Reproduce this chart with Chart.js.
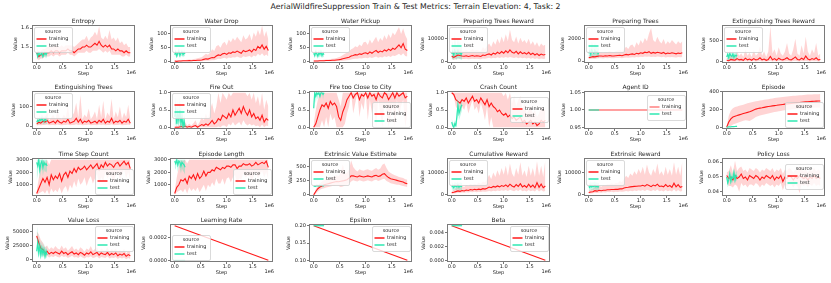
<!DOCTYPE html>
<html>
<head>
<meta charset="utf-8">
<script src="https://cdn.jsdelivr.net/npm/chart.js@4.4.0/dist/chart.umd.min.js"></script>
<style>
  body { margin: 0; background: #fff; }
  #fig { position: relative; width: 831px; height: 283px; overflow: hidden; }
  #fig canvas { position: absolute; }
  #suptitle { position: absolute; left: 0; top: 2px; width: 831px; text-align: center;
              font: 7.8px 'DejaVu Sans'; color: #262626; }
</style>
</head>
<body>
<div id="fig"><div id="suptitle">AerialWildfireSuppression Train &amp; Test Metrics: Terrain Elevation: 4, Task: 2</div></div>
<script>
// steps in units of 1e6
const trainSteps = [0, 0.04, 0.08, 0.12, 0.16, 0.2, 0.24, 0.28, 0.32, 0.36,
  0.4, 0.44, 0.48, 0.52, 0.56, 0.6, 0.64, 0.68, 0.72, 0.76,
  0.8, 0.84, 0.88, 0.92, 0.96, 1.0, 1.04, 1.08, 1.12, 1.16,
  1.2, 1.24, 1.28, 1.32, 1.36, 1.4, 1.44, 1.48, 1.52, 1.56,
  1.6, 1.64, 1.68, 1.72, 1.76, 1.8];
const testSteps = [0, 0.02, 0.04, 0.06, 0.08, 0.1, 0.12, 0.14, 0.16, 0.18, 0.2];
const lineSteps = [0, 1.8];
const lineTestSteps = [0, 0.2];
const xTickLabels = ['0.0', '0.5', '1.0', '1.5'];

// Entropy
const entropyTicks = ['1.5', '1.6'];
const entropyMean = [1.47, 1.45, 1.46, 1.46, 1.47, 1.47, 1.47, 1.48, 1.47, 1.48,
  1.48, 1.47, 1.48, 1.48, 1.48, 1.49, 1.48, 1.48, 1.47, 1.48,
  1.49, 1.49, 1.50, 1.50, 1.51, 1.50, 1.50, 1.51, 1.52, 1.51,
  1.53, 1.51, 1.50, 1.51, 1.50, 1.51, 1.49, 1.49, 1.48, 1.49,
  1.48, 1.48, 1.47, 1.48, 1.47, 1.47];
const entropyHigh = [1.50, 1.47, 1.48, 1.49, 1.49, 1.50, 1.50, 1.50, 1.50, 1.51,
  1.50, 1.50, 1.51, 1.50, 1.51, 1.51, 1.51, 1.51, 1.50, 1.51,
  1.52, 1.53, 1.54, 1.54, 1.56, 1.53, 1.55, 1.56, 1.58, 1.56,
  1.61, 1.55, 1.54, 1.56, 1.54, 1.59, 1.54, 1.55, 1.53, 1.55,
  1.52, 1.53, 1.51, 1.52, 1.50, 1.50];
const entropyLow = [1.44, 1.43, 1.44, 1.44, 1.45, 1.45, 1.45, 1.46, 1.45, 1.46,
  1.46, 1.45, 1.46, 1.46, 1.46, 1.47, 1.46, 1.46, 1.45, 1.46,
  1.47, 1.47, 1.47, 1.47, 1.48, 1.47, 1.47, 1.48, 1.48, 1.48,
  1.49, 1.48, 1.47, 1.48, 1.47, 1.48, 1.46, 1.46, 1.46, 1.46,
  1.46, 1.45, 1.45, 1.46, 1.45, 1.45];
const entropyTest = [1.47, 1.45, 1.47, 1.46, 1.46, 1.47, 1.45, 1.46, 1.47, 1.46, 1.47];
const entropyTestLow = [1.45, 1.44, 1.45, 1.44, 1.45, 1.45, 1.44, 1.45, 1.45, 1.44, 1.45];
const entropyTestHigh = [1.48, 1.47, 1.48, 1.48, 1.47, 1.48, 1.47, 1.48, 1.48, 1.47, 1.48];

// Water Drop
const waterDropTicks = ['0', '50', '100'];
const waterDropMean = [2, 1, 2, 2, 3, 3, 3, 4, 3, 4,
  4, 5, 5, 6, 8, 10, 9, 12, 15, 14,
  20, 24, 22, 28, 30, 26, 32, 30, 35, 33,
  38, 34, 30, 40, 36, 38, 42, 35, 45, 40,
  55, 48, 60, 45, 55, 40];
const waterDropHigh = [4, 3, 5, 5, 6, 6, 7, 8, 7, 9,
  10, 12, 14, 16, 22, 28, 25, 32, 45, 38,
  55, 60, 50, 65, 72, 58, 80, 70, 85, 75,
  90, 80, 70, 95, 80, 85, 100, 75, 105, 90,
  115, 95, 130, 90, 110, 80];
const waterDropLow = [0, 0, 0, 0, 0, 0, 0, 1, 1, 1,
  1, 1, 1, 1, 2, 3, 3, 4, 5, 5,
  8, 10, 9, 12, 14, 10, 15, 13, 16, 15,
  18, 15, 13, 19, 17, 18, 20, 15, 22, 18,
  28, 22, 30, 20, 26, 18];
const waterDropTest = [25, 35, 20, 30, 38, 22, 30, 35, 25, 32, 28];
const waterDropTestLow = [15, 22, 12, 18, 25, 12, 18, 22, 15, 20, 18];
const waterDropTestHigh = [35, 45, 30, 40, 48, 32, 42, 45, 35, 42, 38];

// Water Pickup
const waterPickupTicks = ['0', '50', '100'];
const waterPickupMean = [2, 2, 2, 3, 3, 3, 4, 4, 4, 5,
  5, 6, 7, 8, 10, 12, 14, 16, 20, 22,
  25, 24, 28, 26, 30, 32, 28, 35, 30, 36,
  40, 33, 38, 35, 42, 38, 45, 40, 48, 44,
  52, 60, 50, 65, 45, 40];
const waterPickupHigh = [4, 4, 5, 6, 6, 7, 8, 8, 9, 10,
  11, 13, 16, 18, 24, 28, 32, 36, 45, 48,
  55, 52, 62, 55, 70, 72, 60, 80, 65, 78,
  90, 70, 85, 75, 95, 80, 100, 85, 105, 95,
  110, 125, 100, 120, 95, 80];
const waterPickupLow = [0, 0, 0, 1, 1, 1, 1, 1, 1, 1,
  1, 2, 2, 2, 3, 4, 5, 6, 8, 9,
  10, 10, 12, 11, 13, 14, 12, 16, 13, 16,
  18, 14, 17, 15, 19, 17, 20, 17, 22, 20,
  24, 28, 22, 30, 20, 18];
const waterPickupTest = [30, 22, 35, 28, 20, 32, 26, 35, 22, 30, 25];
const waterPickupTestLow = [18, 12, 22, 16, 10, 20, 15, 22, 12, 18, 15];
const waterPickupTestHigh = [42, 32, 46, 40, 30, 44, 38, 46, 32, 42, 35];

// Preparing Trees Reward
const prepRewardTicks = ['0', '10000'];
const prepRewardMean = [2500, 2000, 2500, 3000, 2800, 2600, 2500, 2700, 2400, 2600,
  2800, 2500, 2700, 2600, 2400, 3000, 2800, 3200, 3500, 3000,
  3800, 3400, 4200, 3600, 4500, 3800, 4800, 4000, 5200, 4200,
  3800, 4600, 3500, 4400, 3600, 4000, 3400, 4200, 3200, 3800,
  3000, 3600, 2800, 3400, 3000, 3200];
const prepRewardHigh = [4500, 4000, 5000, 5500, 5200, 5000, 4800, 5200, 4600, 5000,
  5500, 4800, 5200, 5000, 4600, 6500, 5500, 7000, 8000, 6500,
  9000, 7500, 10000, 8000, 11000, 8500, 12000, 9000, 14000, 9500,
  8500, 11000, 8000, 10500, 8500, 9500, 8000, 10000, 7500, 9000,
  7000, 8500, 6500, 8000, 7000, 7500];
const prepRewardLow = [1200, 1000, 1200, 1500, 1400, 1300, 1300, 1400, 1200, 1300,
  1400, 1300, 1400, 1300, 1200, 1500, 1400, 1600, 1800, 1500,
  1800, 1600, 2000, 1700, 2000, 1800, 2200, 1800, 2200, 1900,
  1700, 2000, 1600, 1900, 1600, 1800, 1500, 1800, 1400, 1700,
  1300, 1600, 1200, 1500, 1300, 1400];
const prepRewardTest = [3500, 4500, 3000, 5000, 4000, 3500, 4800, 3800, 4200, 3200, 4000];
const prepRewardTestLow = [1000, 1500, 800, 2000, 1200, 1000, 1800, 1200, 1500, 900, 1200];
const prepRewardTestHigh = [7000, 9000, 6500, 12000, 8000, 7000, 10000, 7500, 9000, 6500, 8000];

// Preparing Trees
const prepTreesTicks = ['0', '2000'];
const prepTreesMean = [300, 350, 400, 380, 420, 450, 450, 430, 480, 460,
  500, 470, 450, 480, 500, 520, 480, 550, 600, 560,
  620, 650, 600, 700, 650, 750, 700, 800, 750, 850,
  700, 780, 720, 800, 750, 700, 780, 650, 720, 680,
  750, 700, 650, 720, 680, 750];
const prepTreesHigh = [500, 600, 700, 650, 750, 800, 800, 750, 850, 800,
  900, 850, 800, 900, 950, 1000, 900, 1100, 1300, 1100,
  1400, 1500, 1200, 1700, 1400, 1900, 1600, 2100, 1800, 2500,
  3000, 1900, 1700, 2200, 1800, 1600, 2000, 1500, 1800, 1600,
  1900, 1700, 1500, 1800, 1600, 1800];
const prepTreesLow = [150, 180, 200, 180, 220, 250, 250, 230, 270, 250,
  280, 260, 250, 270, 280, 290, 260, 300, 320, 300,
  330, 350, 320, 370, 340, 390, 360, 400, 380, 420,
  360, 390, 360, 400, 380, 350, 390, 330, 360, 340,
  370, 350, 320, 360, 340, 370];
const prepTreesTest = [700, 900, 600, 1000, 800, 700, 950, 750, 850, 650, 800];
const prepTreesTestLow = [300, 400, 250, 450, 350, 300, 420, 330, 380, 280, 350];
const prepTreesTestHigh = [1300, 1600, 1100, 1800, 1400, 1200, 1700, 1300, 1500, 1100, 1400];

// Extinguishing Trees Reward
const extRewardTicks = ['0', '500'];
const extRewardMean = [40, 30, 60, 50, 40, 80, 50, 60, 40, 90,
  50, 70, 40, 80, 50, 60, 100, 50, 70, 40,
  60, 130, 50, 80, 40, 90, 60, 50, 70, 100,
  60, 50, 80, 120, 60, 50, 90, 60, 140, 70,
  50, 80, 60, 100, 50, 60];
const extRewardHigh = [100, 80, 180, 150, 120, 250, 150, 200, 120, 300,
  150, 220, 120, 280, 150, 200, 380, 150, 250, 120,
  250, 850, 200, 300, 150, 350, 200, 150, 250, 450,
  200, 150, 300, 550, 200, 150, 400, 200, 600, 250,
  150, 300, 200, 450, 150, 200];
const extRewardLow = [10, 5, 15, 10, 10, 20, 10, 15, 10, 20,
  10, 15, 10, 20, 10, 15, 25, 10, 15, 10,
  15, 30, 10, 20, 10, 20, 15, 10, 15, 25,
  15, 10, 20, 30, 15, 10, 20, 15, 30, 15,
  10, 20, 15, 25, 10, 15];
const extRewardTest = [120, 180, 100, 200, 150, 130, 190, 110, 160, 140, 170];
const extRewardTestLow = [40, 80, 30, 90, 60, 50, 80, 40, 70, 50, 70];
const extRewardTestHigh = [200, 260, 180, 280, 230, 210, 270, 190, 240, 220, 250];

// Extinguishing Trees
const extTreesTicks = ['0', '100'];
const extTreesMean = [10, 20, 15, 25, 20, 30, 15, 20, 25, 15,
  30, 20, 15, 25, 20, 35, 15, 20, 25, 40,
  20, 35, 15, 25, 20, 30, 15, 20, 25, 15,
  30, 20, 35, 15, 25, 20, 40, 15, 25, 20,
  30, 15, 25, 20, 35, 15];
const extTreesHigh = [20, 40, 30, 50, 40, 70, 30, 45, 60, 35,
  75, 45, 35, 60, 45, 100, 35, 50, 70, 120,
  45, 160, 35, 60, 45, 90, 35, 50, 75, 35,
  110, 45, 130, 35, 70, 50, 140, 35, 75, 45,
  100, 35, 70, 45, 110, 35];
const extTreesLow = [2, 5, 4, 6, 5, 8, 4, 5, 6, 4,
  8, 5, 4, 6, 5, 8, 4, 5, 6, 10,
  5, 8, 4, 6, 5, 8, 4, 5, 6, 4,
  8, 5, 8, 4, 6, 5, 10, 4, 6, 5,
  8, 4, 6, 5, 8, 4];
const extTreesTest = [20, 30, 25, 35, 28, 40, 30, 25, 35, 30, 28];
const extTreesTestLow = [5, 12, 8, 15, 10, 20, 12, 8, 15, 12, 10];
const extTreesTestHigh = [35, 48, 40, 55, 45, 60, 48, 40, 55, 48, 45];

// Fire Out
const fireOutTicks = ['0.0', '0.5', '1.0'];
const fireOutMean = [0, 0, 0, 0.02, 0, 0.03, 0, 0.02, 0, 0.03,
  0.05, 0, 0.04, 0.08, 0.05, 0.1, 0.06, 0.12, 0.2, 0.1,
  0.15, 0.25, 0.2, 0.35, 0.3, 0.25, 0.4, 0.3, 0.5, 0.35,
  0.45, 0.55, 0.4, 0.6, 0.45, 0.35, 0.5, 0.3, 0.4, 0.25,
  0.3, 0.2, 0.35, 0.15, 0.25, 0.2];
const fireOutHigh = [0.02, 0.03, 0.05, 0.1, 0.05, 0.15, 0.05, 0.1, 0.05, 0.12,
  0.2, 0.05, 0.15, 0.3, 0.2, 0.4, 0.25, 0.5, 0.7, 0.4,
  0.6, 1.0, 0.7, 1.0, 0.9, 0.8, 1.0, 0.9, 1.0, 1.0,
  1.0, 1.0, 1.0, 1.0, 1.0, 0.9, 1.0, 0.8, 1.0, 0.7,
  0.9, 0.6, 1.0, 0.5, 0.8, 0.6];
const fireOutLow = [0, 0, 0, 0, 0, 0, 0, 0, 0, 0,
  0, 0, 0, 0, 0, 0, 0, 0, 0, 0,
  0, 0.02, 0, 0.05, 0.05, 0, 0.1, 0.05, 0.15, 0.05,
  0.1, 0.15, 0.05, 0.2, 0.1, 0.05, 0.1, 0.05, 0.08, 0.03,
  0.05, 0, 0.08, 0, 0.05, 0.03];
const fireOutTest = [0.3, 0.5, 0.1, 0.4, 0.2, 0.5, 0.1, 0.3, 0.0, 0.2, 0.0];
const fireOutTestLow = [0, 0.1, 0, 0.1, 0, 0.2, 0, 0, 0, 0, 0];
const fireOutTestHigh = [0.6, 0.9, 0.3, 0.8, 0.5, 0.9, 0.3, 0.6, 0.1, 0.4, 0.1];

// Fire too Close to City
const fireCityTicks = ['0.0', '0.5', '1.0'];
const fireCityMean = [0, 0.1, 0.3, 0.5, 0.65, 0.6, 0.7, 0.55, 0.75, 0.65,
  0.7, 0.6, 0.3, 0.2, 0.45, 0.6, 0.8, 0.9, 1.0, 0.85,
  0.95, 1.0, 0.8, 0.95, 0.9, 1.0, 0.85, 1.0, 0.9, 0.95,
  0.8, 1.0, 0.9, 0.85, 1.0, 0.95, 0.8, 0.9, 1.0, 0.85,
  1.0, 0.9, 0.95, 1.0, 0.85, 0.9];
const fireCityHigh = [0.1, 0.5, 0.8, 1, 1, 1, 1, 1, 1, 1,
  1, 1, 0.8, 0.6, 1, 1, 1, 1, 1, 1,
  1, 1, 1, 1, 1, 1, 1, 1, 1, 1,
  1, 1, 1, 1, 1, 1, 1, 1, 1, 1,
  1, 1, 1, 1, 1, 1];
const fireCityLow = [0, 0, 0, 0, 0.2, 0, 0.3, 0, 0.4, 0.2,
  0.3, 0, 0, 0, 0, 0.1, 0.4, 0.6, 1.0, 0.4,
  0.7, 1.0, 0.3, 0.7, 0.5, 1.0, 0.2, 0.8, 0.4, 0.6,
  0, 0.8, 0.4, 0, 0.7, 0.5, 0, 0.3, 0.7, 0,
  0.8, 0.3, 0.6, 0.8, 0, 0.4];
const fireCityTest = [0.55, 1.0, 0.9, 1.0, 0.95, 1.0, 0.9, 1.0, 1.0, 0.95, 1.0];
const fireCityTestLow = [0.3, 0.9, 0.7, 0.9, 0.8, 1.0, 0.8, 0.9, 1.0, 0.8, 1.0];
const fireCityTestHigh = [0.8, 1, 1, 1, 1, 1, 1, 1, 1, 1, 1];

// Crash Count
const crashTicks = ['0.0', '0.5', '1.0'];
const crashMean = [1.0, 0.95, 0.8, 0.75, 0.7, 0.8, 0.75, 0.85, 0.7, 0.8,
  0.9, 0.75, 0.8, 0.7, 0.85, 0.75, 0.65, 0.8, 0.6, 0.7,
  0.6, 0.55, 0.45, 0.5, 0.4, 0.35, 0.4, 0.3, 0.35, 0.25,
  0.3, 0.2, 0.25, 0.3, 0.15, 0.2, 0.1, 0.15, 0.2, 0.1,
  0.15, 0.05, 0.1, 0.2, 0.15, 0.2];
const crashHigh = [1, 1, 1, 1, 1, 1, 1, 1, 1, 1,
  1, 1, 1, 1, 1, 1, 1, 1, 1, 1,
  1, 1, 1, 1, 1, 0.9, 1, 0.8, 1, 0.7,
  0.9, 0.6, 0.8, 0.9, 0.5, 0.7, 0.4, 0.5, 0.6, 0.4,
  0.5, 0.3, 0.4, 0.6, 0.5, 0.5];
const crashLow = [1, 0.9, 0.6, 0.5, 0.4, 0.6, 0.5, 0.7, 0.4, 0.6,
  0.8, 0.5, 0.6, 0.4, 0.7, 0.5, 0.2, 0.6, 0, 0.3,
  0, 0, 0, 0, 0, 0, 0, 0, 0, 0,
  0, 0, 0, 0, 0, 0, 0, 0, 0, 0,
  0, 0, 0, 0, 0, 0];
const crashTest = [0.15, 0.05, 0.0, 0.1, 0.05, 0.3, 0.65, 0.4, 0.5, 0.6, 0.65];
const crashTestLow = [0.05, 0, 0, 0, 0, 0.1, 0.5, 0.2, 0.3, 0.4, 0.5];
const crashTestHigh = [0.25, 0.15, 0.1, 0.2, 0.15, 0.5, 0.8, 0.6, 0.7, 0.8, 0.8];

// Agent ID
const agentTicks = ['0.95', '1.00', '1.05'];
const agentTrain = [1, 1];
const agentTest = [1, 1];

// Episode
const episodeTicks = ['0', '200', '400'];
const episodeMean = [0, 60, 95, 115, 125, 132, 140, 148, 155, 162,
  168, 175, 185, 195, 205, 212, 216, 220, 225, 230,
  234, 238, 242, 245, 248, 252, 255, 258, 261, 264,
  267, 270, 273, 276, 278, 280, 283, 285, 287, 289,
  291, 293, 294, 295, 296, 297];
const episodeHigh = [0, 130, 190, 215, 228, 235, 242, 248, 254, 262,
  270, 276, 282, 288, 294, 298, 302, 306, 310, 314,
  318, 322, 326, 330, 333, 336, 339, 342, 345, 348,
  351, 353, 355, 357, 359, 361, 363, 365, 367, 369,
  370, 371, 372, 373, 374, 375];
const episodeLow = [0, 5, 15, 30, 40, 48, 56, 64, 72, 80,
  75, 70, 85, 100, 115, 125, 132, 138, 144, 150,
  156, 162, 167, 172, 176, 180, 184, 188, 191, 194,
  197, 200, 203, 206, 208, 210, 212, 214, 216, 218,
  219, 220, 221, 222, 223, 224];
const episodeTest = [0, 2, 3, 4, 5, 6, 6, 7, 8, 9, 10];

// Time Step Count
const timeStepTicks = ['1000', '2000', '3000'];
const timeStepMean = [300, 700, 1100, 1500, 1200, 1600, 1000, 1800, 1400, 1700,
  1500, 1900, 1300, 1800, 2000, 1600, 2100, 1900, 2300, 2000,
  2400, 2200, 2300, 2500, 2200, 2400, 2600, 2300, 2500, 2700,
  2200, 2600, 2400, 2800, 2500, 2700, 2600, 2400, 2700, 2800,
  2500, 2700, 2900, 2600, 2800, 2300];
const timeStepHigh = [500, 1500, 2500, 3000, 2800, 3000, 2600, 3000, 3000, 3000,
  3000, 3000, 3000, 3000, 3000, 3000, 3000, 3000, 3000, 3000,
  3000, 3000, 3000, 3000, 3000, 3000, 3000, 3000, 3000, 3000,
  3000, 3000, 3000, 3000, 3000, 3000, 3000, 3000, 3000, 3000,
  3000, 3000, 3000, 3000, 3000, 3000];
const timeStepLow = [200, 300, 400, 500, 300, 600, 200, 700, 400, 600,
  400, 800, 300, 700, 900, 400, 1000, 700, 1300, 800,
  1500, 1000, 1200, 1600, 900, 1400, 1700, 1100, 1500, 1900,
  1000, 1600, 1300, 2000, 1500, 1800, 1600, 1200, 1800, 2000,
  1400, 1800, 2200, 1500, 2000, 1300];
const timeStepTest = [2800, 2500, 3000, 2200, 2700, 2900, 2400, 2800, 2600, 2700, 2500];
const timeStepTestLow = [1300, 1800, 2500, 1500, 2000, 2400, 1700, 2200, 2000, 2100, 1900];
const timeStepTestHigh = [3000, 3000, 3000, 3000, 3000, 3000, 3000, 3000, 3000, 3000, 3000];

// Episode Length
const epLenTicks = ['1000', '2000', '3000'];
const epLenMean = [300, 800, 1000, 1400, 1300, 1500, 1100, 1700, 1500, 1800,
  1400, 1900, 1500, 1700, 2100, 1700, 2000, 2000, 2200, 2100,
  2400, 2300, 2200, 2400, 2300, 2500, 2500, 2400, 2600, 2600,
  2300, 2500, 2500, 2700, 2600, 2600, 2700, 2500, 2600, 2800,
  2600, 2700, 2800, 2700, 2900, 2400];
const epLenHigh = [500, 1600, 2400, 3000, 2900, 3000, 2700, 3000, 3000, 3000,
  3000, 3000, 3000, 3000, 3000, 3000, 3000, 3000, 3000, 3000,
  3000, 3000, 3000, 3000, 3000, 3000, 3000, 3000, 3000, 3000,
  3000, 3000, 3000, 3000, 3000, 3000, 3000, 3000, 3000, 3000,
  3000, 3000, 3000, 3000, 3000, 3000];
const epLenLow = [200, 400, 500, 600, 400, 700, 300, 800, 500, 700,
  500, 800, 400, 700, 1000, 500, 1000, 800, 1200, 900,
  1500, 1100, 1100, 1500, 1000, 1500, 1600, 1200, 1600, 1800,
  1100, 1500, 1400, 1900, 1600, 1700, 1700, 1300, 1700, 2000,
  1500, 1800, 2100, 1600, 2000, 1400];
const epLenTest = [2900, 2700, 3000, 2600, 2900, 2800, 2500, 2800, 2700, 2600, 2400];
const epLenTestLow = [2400, 2200, 2700, 2000, 2500, 2300, 1900, 2300, 2100, 2000, 1800];
const epLenTestHigh = [3000, 3000, 3000, 3000, 3000, 3000, 3000, 3000, 3000, 3000, 3000];

// Extrinsic Value Estimate
const valueEstTicks = ['0', '250', '500'];
const valueEstMean = [0, 60, 110, 140, 160, 180, 190, 200, 210, 220,
  230, 240, 235, 245, 250, 260, 270, 300, 340, 340,
  330, 320, 340, 330, 320, 330, 340, 330, 320, 340,
  350, 330, 340, 370, 380, 340, 310, 290, 280, 270,
  260, 250, 240, 230, 210, 200];
const valueEstHigh = [0, 100, 170, 210, 240, 260, 280, 290, 300, 320,
  340, 350, 340, 400, 550, 380, 400, 450, 620, 500,
  450, 420, 460, 440, 430, 450, 460, 440, 430, 460,
  480, 450, 470, 540, 560, 480, 420, 390, 370, 350,
  340, 320, 310, 300, 280, 270];
const valueEstLow = [0, 20, 60, 90, 110, 120, 130, 140, 150, 160,
  160, 170, 160, 140, 150, 170, 180, 200, 240, 260,
  250, 240, 260, 250, 240, 250, 260, 250, 240, 260,
  270, 250, 260, 280, 290, 250, 230, 210, 200, 190,
  180, 180, 170, 160, 150, 140];
const valueEstTest = [150, 160, 155, 170, 165, 160, 170, 165, 175, 160, 170];
const valueEstTestLow = [130, 140, 135, 150, 145, 140, 150, 145, 155, 140, 150];
const valueEstTestHigh = [170, 180, 175, 190, 185, 180, 190, 185, 195, 180, 190];

// Cumulative Reward
const cumRewardTicks = ['0', '10000'];
const cumRewardMean = [1000, 1200, 1500, 1800, 1600, 2000, 1800, 2200, 2000, 2400,
  2200, 2500, 2300, 2600, 2400, 2800, 2600, 3000, 3500, 3200,
  3800, 3500, 4000, 3600, 4200, 3800, 4500, 3700, 4800, 4000,
  3500, 4600, 3800, 5000, 3600, 4200, 3400, 4800, 3500, 4400,
  3200, 5500, 3400, 4800, 3200, 4000];
const cumRewardHigh = [1800, 2200, 3000, 3500, 3200, 4000, 3500, 4500, 4000, 5000,
  4500, 5000, 4600, 5500, 5000, 6000, 5500, 7000, 9000, 7000,
  10000, 8000, 11000, 8500, 12000, 9000, 13000, 8500, 14000, 9500,
  8000, 12000, 9000, 14500, 8500, 11000, 8000, 13000, 8500, 12000,
  8000, 15000, 8500, 13000, 8000, 15500];
const cumRewardLow = [600, 700, 800, 1000, 900, 1100, 1000, 1200, 1100, 1300,
  1200, 1400, 1200, 1400, 1300, 1500, 1400, 1600, 1800, 1600,
  1900, 1700, 2000, 1800, 2100, 1900, 2200, 1800, 2300, 2000,
  1700, 2200, 1800, 2400, 1700, 2000, 1600, 2200, 1700, 2000,
  1500, 2500, 1600, 2200, 1500, 1800];
const cumRewardTest = [3500, 4000, 3200, 4200, 3800, 3600, 4500, 3400, 4000, 3700, 3900];
const cumRewardTestLow = [2000, 2500, 1800, 2600, 2200, 2000, 2800, 1900, 2400, 2100, 2300];
const cumRewardTestHigh = [5000, 5500, 4600, 5800, 5400, 5200, 6000, 5000, 5600, 5300, 5500];

// Extrinsic Reward
const extrinsicTicks = ['0', '10000'];
const extrinsicMean = [1100, 1300, 1400, 1900, 1700, 2100, 1900, 2100, 2100, 2300,
  2300, 2400, 2400, 2500, 2500, 2700, 2700, 3100, 3300, 3400,
  3600, 3700, 3800, 3900, 4000, 4000, 4300, 3900, 4600, 4200,
  3700, 4400, 4000, 4800, 3800, 4000, 3600, 4600, 3700, 4200,
  3400, 5200, 3600, 4600, 3400, 3800];
const extrinsicHigh = [2000, 2400, 2800, 3600, 3400, 4200, 3600, 4300, 4200, 4800,
  4700, 5200, 4800, 5300, 5200, 6200, 5600, 7200, 8500, 7500,
  9500, 8500, 10500, 9000, 11500, 9500, 12500, 9000, 13500, 10000,
  8500, 11500, 9500, 14000, 9000, 10500, 8500, 12500, 9000, 11500,
  8500, 14500, 9000, 12500, 8500, 15000];
const extrinsicLow = [600, 700, 800, 1000, 900, 1100, 1000, 1200, 1100, 1300,
  1200, 1400, 1200, 1400, 1300, 1500, 1400, 1600, 1800, 1600,
  1900, 1700, 2000, 1800, 2100, 1900, 2200, 1800, 2300, 2000,
  1700, 2200, 1800, 2400, 1700, 2000, 1600, 2200, 1700, 2000,
  1500, 2500, 1600, 2200, 1500, 1800];
const extrinsicTest = [3800, 3300, 4200, 3500, 4000, 3700, 4300, 3600, 3900, 3500, 3800];
const extrinsicTestLow = [2200, 1800, 2500, 2000, 2400, 2100, 2600, 2000, 2300, 2000, 2200];
const extrinsicTestHigh = [5500, 5000, 6000, 5200, 5800, 5400, 6200, 5300, 5700, 5100, 5500];

// Policy Loss
const policyTicks = ['0.04', '0.05', '0.06'];
const policyMean = [0.051, 0.049, 0.050, 0.048, 0.051, 0.049, 0.050, 0.052, 0.049, 0.050,
  0.048, 0.051, 0.050, 0.049, 0.051, 0.050, 0.048, 0.050, 0.049, 0.051,
  0.050, 0.049, 0.051, 0.048, 0.050, 0.049, 0.051, 0.047, 0.050, 0.049,
  0.051, 0.050, 0.048, 0.050, 0.049, 0.051, 0.050, 0.049, 0.050, 0.048,
  0.050, 0.049, 0.051, 0.049, 0.050, 0.049];
const policyHigh = [0.053, 0.054, 0.058, 0.053, 0.061, 0.054, 0.056, 0.057, 0.054, 0.055,
  0.053, 0.056, 0.055, 0.054, 0.056, 0.055, 0.053, 0.055, 0.054, 0.056,
  0.055, 0.054, 0.056, 0.053, 0.055, 0.054, 0.056, 0.052, 0.055, 0.054,
  0.056, 0.055, 0.053, 0.055, 0.054, 0.057, 0.055, 0.054, 0.055, 0.053,
  0.055, 0.054, 0.056, 0.054, 0.055, 0.054];
const policyLow = [0.048, 0.044, 0.044, 0.043, 0.045, 0.044, 0.040, 0.046, 0.044, 0.045,
  0.043, 0.045, 0.045, 0.044, 0.046, 0.045, 0.043, 0.045, 0.044, 0.046,
  0.045, 0.044, 0.045, 0.043, 0.045, 0.044, 0.046, 0.041, 0.045, 0.044,
  0.045, 0.045, 0.043, 0.045, 0.044, 0.039, 0.045, 0.044, 0.045, 0.043,
  0.045, 0.044, 0.046, 0.044, 0.045, 0.044];
const policyTest = [0.050, 0.046, 0.048, 0.052, 0.047, 0.050, 0.049, 0.053, 0.048, 0.051, 0.050];
const policyTestLow = [0.047, 0.043, 0.045, 0.049, 0.044, 0.047, 0.046, 0.050, 0.045, 0.048, 0.047];
const policyTestHigh = [0.053, 0.049, 0.051, 0.055, 0.050, 0.053, 0.052, 0.056, 0.051, 0.054, 0.053];

// Value Loss
const valueLossTicks = ['0', '25000', '50000'];
const valueLossMean = [42000, 30000, 20000, 18000, 12000, 15000, 10000, 13000, 11000, 14000,
  12000, 10000, 15000, 11000, 13000, 9000, 12000, 14000, 10000, 12000,
  9000, 13000, 11000, 8000, 12000, 10000, 14000, 9000, 11000, 13000,
  8000, 12000, 10000, 9000, 13000, 8000, 11000, 9000, 12000, 7000,
  10000, 8000, 11000, 6000, 9000, 7000];
const valueLossHigh = [50000, 45000, 35000, 30000, 22000, 25000, 18000, 22000, 19000, 24000,
  20000, 18000, 25000, 19000, 22000, 16000, 20000, 24000, 17000, 20000,
  16000, 22000, 19000, 14000, 20000, 17000, 24000, 16000, 19000, 22000,
  14000, 20000, 17000, 16000, 22000, 14000, 19000, 16000, 20000, 13000,
  17000, 14000, 19000, 11000, 16000, 13000];
const valueLossLow = [35000, 18000, 10000, 9000, 5000, 7000, 4000, 6000, 5000, 7000,
  5000, 4000, 7000, 5000, 6000, 3000, 5000, 7000, 4000, 5000,
  3000, 6000, 4000, 2000, 5000, 4000, 6000, 3000, 4000, 6000,
  2000, 5000, 4000, 3000, 6000, 2000, 4000, 3000, 5000, 1500,
  4000, 2000, 4000, 1000, 3000, 1500];
const valueLossTest = [15000, 30000, 12000, 25000, 8000, 20000, 10000, 18000, 6000, 15000, 8000];
const valueLossTestLow = [5000, 15000, 4000, 10000, 2000, 8000, 3000, 7000, 1000, 5000, 2000];
const valueLossTestHigh = [25000, 58000, 22000, 40000, 15000, 35000, 20000, 30000, 12000, 25000, 15000];

// Learning Rate / Epsilon / Beta
const lrTicks = ['0.0000', '0.0002'];
const lrTrain = [0.0003, 0.0];
const lrTest = [0.0, 0.0];
const epsTicks = ['0.10', '0.15', '0.20'];
const epsTrain = [0.2, 0.1];
const epsTest = [0.2, 0.2];
const betaTicks = ['0.000', '0.002', '0.004'];
const betaTrain = [0.005, 0.0];
const betaTest = [0.005, 0.005];

const FONT = "'DejaVu Sans'";
const TRAIN = '#ff1a1a';
const TRAIN_BAND = 'rgba(255, 40, 40, 0.2)';
const TEST = '#2ee8b2';
const TEST_BAND = 'rgba(46, 232, 178, 0.3)';
const TEXT = '#262626';
const TICK_SIZE = 5.1;

const panels = [
  {title: 'Entropy', ticks: entropyTicks, min: 1.416, max: 1.616, mean: entropyMean, low: entropyLow, high: entropyHigh,
   test: entropyTest, testLow: entropyTestLow, testHigh: entropyTestHigh, legend: 'ul'},
  {title: 'Water Drop', ticks: waterDropTicks, min: -5, max: 132, mean: waterDropMean, low: waterDropLow, high: waterDropHigh,
   test: waterDropTest, testLow: waterDropTestLow, testHigh: waterDropTestHigh, legend: 'ul'},
  {title: 'Water Pickup', ticks: waterPickupTicks, min: -5, max: 132, mean: waterPickupMean, low: waterPickupLow, high: waterPickupHigh,
   test: waterPickupTest, testLow: waterPickupTestLow, testHigh: waterPickupTestHigh, legend: 'ul'},
  {title: 'Preparing Trees Reward', ticks: prepRewardTicks, min: -450, max: 16000, mean: prepRewardMean, low: prepRewardLow, high: prepRewardHigh,
   test: prepRewardTest, testLow: prepRewardTestLow, testHigh: prepRewardTestHigh, legend: 'ul'},
  {title: 'Preparing Trees', ticks: prepTreesTicks, min: -180, max: 3270, mean: prepTreesMean, low: prepTreesLow, high: prepTreesHigh,
   test: prepTreesTest, testLow: prepTreesTestLow, testHigh: prepTreesTestHigh, legend: 'ul'},
  {title: 'Extinguishing Trees Reward', ticks: extRewardTicks, min: -25, max: 880, mean: extRewardMean, low: extRewardLow, high: extRewardHigh,
   test: extRewardTest, testLow: extRewardTestLow, testHigh: extRewardTestHigh, legend: 'ul'},

  {title: 'Extinguishing Trees', ticks: extTreesTicks, min: -15, max: 180, mean: extTreesMean, low: extTreesLow, high: extTreesHigh,
   test: extTreesTest, testLow: extTreesTestLow, testHigh: extTreesTestHigh, legend: 'ul'},
  {title: 'Fire Out', ticks: fireOutTicks, min: -0.05, max: 1.05, mean: fireOutMean, low: fireOutLow, high: fireOutHigh,
   test: fireOutTest, testLow: fireOutTestLow, testHigh: fireOutTestHigh, legend: 'ul'},
  {title: 'Fire too Close to City', ticks: fireCityTicks, min: -0.05, max: 1.05, mean: fireCityMean, low: fireCityLow, high: fireCityHigh,
   test: fireCityTest, testLow: fireCityTestLow, testHigh: fireCityTestHigh, legend: 'lr'},
  {title: 'Crash Count', ticks: crashTicks, min: -0.05, max: 1.05, mean: crashMean, low: crashLow, high: crashHigh,
   test: crashTest, testLow: crashTestLow, testHigh: crashTestHigh, legend: 'ur', dy: 4},
  {title: 'Agent ID', ticks: agentTicks, min: 0.945, max: 1.055, steps: lineSteps, testSteps: lineTestSteps,
   mean: agentTrain, test: agentTest, lineColor: '#ff8080', lineWidth: 1.6, legend: 'ur', dy: 2},
  {title: 'Episode', ticks: episodeTicks, min: -20, max: 410, mean: episodeMean, low: episodeLow, high: episodeHigh,
   test: episodeTest, legend: 'lr'},

  {title: 'Time Step Count', ticks: timeStepTicks, min: 100, max: 3150, mean: timeStepMean, low: timeStepLow, high: timeStepHigh,
   test: timeStepTest, testLow: timeStepTestLow, testHigh: timeStepTestHigh, legend: 'lr'},
  {title: 'Episode Length', ticks: epLenTicks, min: 100, max: 3150, mean: epLenMean, low: epLenLow, high: epLenHigh,
   test: epLenTest, testLow: epLenTestLow, testHigh: epLenTestHigh, legend: 'lr'},
  {title: 'Extrinsic Value Estimate', ticks: valueEstTicks, min: -20, max: 660, mean: valueEstMean, low: valueEstLow, high: valueEstHigh,
   test: valueEstTest, testLow: valueEstTestLow, testHigh: valueEstTestHigh, legend: 'ul'},
  {title: 'Cumulative Reward', ticks: cumRewardTicks, min: -450, max: 16400, mean: cumRewardMean, low: cumRewardLow, high: cumRewardHigh,
   test: cumRewardTest, testLow: cumRewardTestLow, testHigh: cumRewardTestHigh, legend: 'ul'},
  {title: 'Extrinsic Reward', ticks: extrinsicTicks, min: -450, max: 16400, mean: extrinsicMean, low: extrinsicLow, high: extrinsicHigh,
   test: extrinsicTest, testLow: extrinsicTestLow, testHigh: extrinsicTestHigh, legend: 'ul'},
  {title: 'Policy Loss', ticks: policyTicks, min: 0.0372, max: 0.0628, mean: policyMean, low: policyLow, high: policyHigh,
   test: policyTest, testLow: policyTestLow, testHigh: policyTestHigh, legend: 'ur', dy: 4},

  {title: 'Value Loss', ticks: valueLossTicks, min: -4000, max: 63000, mean: valueLossMean, low: valueLossLow, high: valueLossHigh,
   test: valueLossTest, testLow: valueLossTestLow, testHigh: valueLossTestHigh, legend: 'ur'},
  {title: 'Learning Rate', ticks: lrTicks, min: -0.000015, max: 0.000315, steps: lineSteps, testSteps: lineTestSteps,
   mean: lrTrain, test: lrTest, legend: 'll'},
  {title: 'Epsilon', ticks: epsTicks, min: 0.095, max: 0.205, steps: lineSteps, testSteps: lineTestSteps,
   mean: epsTrain, test: epsTest, legend: 'ur'},
  {title: 'Beta', ticks: betaTicks, min: -0.00025, max: 0.00525, steps: lineSteps, testSteps: lineTestSteps,
   mean: betaTrain, test: betaTest, legend: 'ur'}
];

// axes boxes in the figure
const colLefts = [32, 170, 309, 447, 584, 722];
const rowTops = [25, 91, 158, 224];
const AX_W = 103, AX_H = 38;
const PAD_L = 32, PAD_T = 16, PAD_R = 8, PAD_B = 14;

const pts = (steps, vals) => steps.map((x, i) => ({x: x, y: vals[i]}));

function drawLegend(ctx, ca, p) {
  const w = 38, h = 25;
  let x = p.legend[1] === 'l' ? ca.left + 2 : ca.right - 2 - w;
  let y = p.legend[0] === 'u' ? ca.top + 2 : ca.bottom - 2 - h;
  y += p.dy || 0;
  ctx.save();
  ctx.fillStyle = 'rgba(255,255,255,0.8)';
  ctx.strokeStyle = '#d0d0d0';
  ctx.lineWidth = 0.8;
  ctx.beginPath();
  ctx.roundRect(x + 0.5, y + 0.5, w, h, 1.5);
  ctx.fill();
  ctx.stroke();
  ctx.fillStyle = TEXT;
  ctx.font = '5px ' + FONT;
  ctx.textBaseline = 'middle';
  ctx.textAlign = 'center';
  ctx.fillText('source', x + w / 2, y + 5);
  ctx.textAlign = 'left';
  [['training', p.lineColor || TRAIN, 12], ['test', TEST, 19]].forEach(([lab, col, dy]) => {
    ctx.strokeStyle = col;
    ctx.lineWidth = 1.5;
    ctx.beginPath();
    ctx.moveTo(x + 2.5, y + dy);
    ctx.lineTo(x + 12.5, y + dy);
    ctx.stroke();
    ctx.fillText(lab, x + 15, y + dy);
  });
  ctx.restore();
}

function drawDeco(chart, p) {
  const ctx = chart.ctx, ca = chart.chartArea;
  ctx.save();
  ctx.strokeStyle = '#7a7a7a';
  ctx.lineWidth = 1;
  ctx.strokeRect(ca.left + 0.5, ca.top + 0.5, ca.right - ca.left - 1, ca.bottom - ca.top - 1);

  ctx.fillStyle = TEXT;
  ctx.font = '6px ' + FONT;
  ctx.textAlign = 'center';
  ctx.textBaseline = 'alphabetic';
  ctx.fillText(p.title, (ca.left + ca.right) / 2, ca.top - 2.5);

  ctx.font = TICK_SIZE + 'px ' + FONT;
  const maxW = Math.max(...p.ticks.map(t => ctx.measureText(t).width));
  ctx.textBaseline = 'middle';
  ctx.fillText('Step', (ca.left + ca.right) / 2, ca.bottom + 10.5);
  ctx.textAlign = 'right';
  ctx.fillText('1e6', ca.right + 1, ca.bottom + 10);

  ctx.save();
  ctx.translate(ca.left - maxW - 8.5, (ca.top + ca.bottom) / 2);
  ctx.rotate(-Math.PI / 2);
  ctx.textAlign = 'center';
  ctx.fillText('Value', 0, 0);
  ctx.restore();
  ctx.restore();

  drawLegend(ctx, ca, p);
}

const fig = document.getElementById('fig');

panels.forEach((p, idx) => {
  const col = idx % 6, row = Math.floor(idx / 6);
  const canvas = document.createElement('canvas');
  const cw = AX_W + PAD_L + PAD_R, ch = AX_H + PAD_T + PAD_B;
  canvas.width = cw;
  canvas.height = ch;
  canvas.style.left = (colLefts[col] - PAD_L) + 'px';
  canvas.style.top = (rowTops[row] - PAD_T) + 'px';
  canvas.style.width = cw + 'px';
  canvas.style.height = ch + 'px';
  fig.appendChild(canvas);

  const steps = p.steps || trainSteps;
  const tSteps = p.testSteps || testSteps;
  const datasets = [];
  if (p.high) {
    datasets.push({data: pts(steps, p.high), fill: '+1', backgroundColor: TRAIN_BAND,
      borderColor: 'transparent', borderWidth: 0, pointRadius: 0, order: 4});
    datasets.push({data: pts(steps, p.low), fill: false, borderColor: 'transparent',
      borderWidth: 0, pointRadius: 0, order: 4});
  }
  datasets.push({data: pts(steps, p.mean), fill: false, borderColor: p.lineColor || TRAIN,
    borderWidth: p.lineWidth || 1.1, pointRadius: 0, order: 2});
  if (p.testHigh) {
    datasets.push({data: pts(tSteps, p.testHigh), fill: '+1', backgroundColor: TEST_BAND,
      borderColor: 'transparent', borderWidth: 0, pointRadius: 0, order: 3});
    datasets.push({data: pts(tSteps, p.testLow), fill: false, borderColor: 'transparent',
      borderWidth: 0, pointRadius: 0, order: 3});
  }
  datasets.push({data: pts(tSteps, p.test), fill: false, borderColor: TEST,
    borderWidth: 1.2, pointRadius: 0, order: 1});

  const tickFont = {family: FONT, size: TICK_SIZE};
  new Chart(canvas.getContext('2d'), {
    type: 'line',
    data: {datasets: datasets},
    options: {
      responsive: false,
      animation: false,
      devicePixelRatio: 1,
      events: [],
      layout: {padding: {top: PAD_T, right: PAD_R, left: 0, bottom: 0}},
      plugins: {legend: {display: false}, tooltip: {enabled: false}},
      scales: {
        x: {
          type: 'linear', min: -0.09, max: 1.89,
          afterBuildTicks: s => { s.ticks = xTickLabels.map(t => ({value: parseFloat(t)})); },
          afterFit: s => { s.height = PAD_B; },
          ticks: {callback: (v, i) => xTickLabels[i], font: tickFont, color: TEXT, padding: 0,
                  maxRotation: 0, minRotation: 0, autoSkip: false},
          grid: {drawOnChartArea: false, drawTicks: true, tickLength: 2, color: '#555', lineWidth: 0.8},
          border: {display: false}
        },
        y: {
          type: 'linear', min: p.min, max: p.max,
          afterBuildTicks: s => { s.ticks = p.ticks.map(t => ({value: parseFloat(t)})); },
          afterFit: s => { s.width = PAD_L; },
          ticks: {callback: (v, i) => p.ticks[i], font: tickFont, color: TEXT, padding: 1, autoSkip: false},
          grid: {drawOnChartArea: false, drawTicks: true, tickLength: 2, color: '#555', lineWidth: 0.8},
          border: {display: false}
        }
      }
    },
    plugins: [{id: 'deco', afterDraw: chart => drawDeco(chart, p)}]
  });
});
</script>
</body>
</html>
